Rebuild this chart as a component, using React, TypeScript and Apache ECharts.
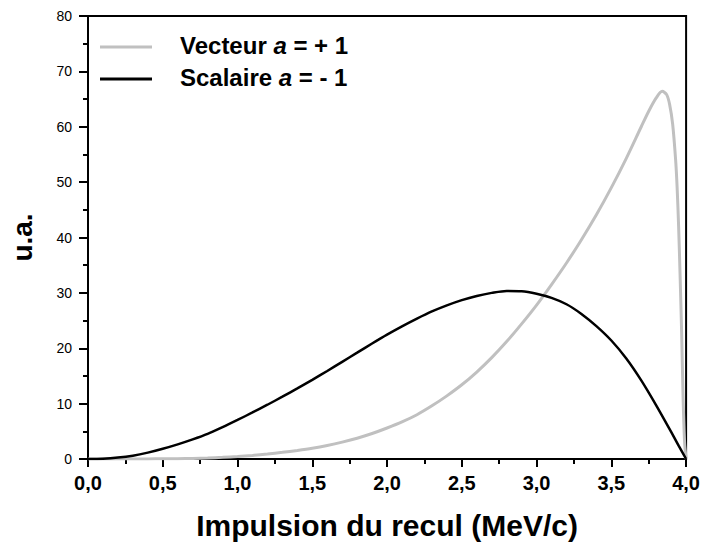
import React, { useEffect, useRef } from "react";
import * as echarts from "echarts";

const xName = "Impulsion du recul (MeV/c)";
const yName = "u.a.";

const scalaireX = [0, 0.1, 0.2, 0.3, 0.4, 0.5, 0.6, 0.7, 0.8, 0.9, 1.0, 1.1, 1.2, 1.3, 1.4, 1.5, 1.6, 1.7, 1.8, 1.9, 2.0, 2.1, 2.2, 2.3, 2.4, 2.5, 2.6, 2.7, 2.8, 2.9, 3.0, 3.1, 3.2, 3.3, 3.4, 3.5, 3.6, 3.7, 3.8, 3.9, 3.95, 4.0];
const scalaireY = [0, 0.05, 0.25, 0.6, 1.15, 1.85, 2.65, 3.55, 4.55, 5.75, 7.05, 8.4, 9.8, 11.25, 12.75, 14.3, 15.9, 17.55, 19.2, 20.85, 22.45, 23.95, 25.35, 26.65, 27.75, 28.7, 29.45, 30.0, 30.35, 30.3, 29.85, 29.1, 27.95, 26.2, 24.0, 21.4, 18.15, 14.2, 9.7, 4.9, 2.4, 0];

const vecteurX = [0, 0.1, 0.2, 0.3, 0.4, 0.5, 0.6, 0.7, 0.8, 0.9, 1.0, 1.1, 1.2, 1.3, 1.4, 1.5, 1.6, 1.7, 1.8, 1.9, 2.0, 2.1, 2.2, 2.3, 2.4, 2.5, 2.6, 2.7, 2.8, 2.9, 3.0, 3.1, 3.2, 3.3, 3.4, 3.5, 3.6, 3.7, 3.75, 3.8, 3.84, 3.87, 3.89, 3.91, 3.93, 3.94, 3.95, 3.96, 3.97, 3.98, 3.99, 4.0];
const vecteurY = [0, 0, 0, 0.01, 0.02, 0.03, 0.05, 0.1, 0.18, 0.3, 0.45, 0.65, 0.9, 1.2, 1.55, 1.95, 2.45, 3.05, 3.75, 4.6, 5.6, 6.7, 8.0, 9.6, 11.4, 13.4, 15.7, 18.3, 21.2, 24.4, 27.8, 31.5, 35.4, 39.6, 44.1, 49.0, 54.3, 60.0, 62.8, 65.2, 66.4, 65.8, 64.0, 60.5, 54, 49, 42, 33, 23, 11, 3, 0];

const legendNames = ["Vecteur", "Scalaire"];
const legendValues = ["+ 1", "- 1"];
const colors = ["#c0c0c0", "#000000"];

const FONT = "'Liberation Sans', Arial, sans-serif";

export default function App() {
  const ref = useRef<HTMLDivElement>(null);
  useEffect(() => {
    if (!ref.current) return;
    const chart = echarts.init(ref.current, null, { renderer: "svg" });
    const pairs = (xs: number[], ys: number[]) => xs.map((x, i) => [x, ys[i]]);
    chart.setOption({
      animation: false,
      backgroundColor: "#ffffff",
      grid: {
        left: 85,
        right: 16,
        top: 16,
        bottom: 86,
        show: true,
        borderColor: "#000",
        borderWidth: 2,
        backgroundColor: "transparent",
      },
      xAxis: {
        type: "value",
        min: 0,
        max: 4,
        interval: 0.5,
        name: xName,
        nameLocation: "middle",
        nameGap: 51,
        nameTextStyle: { fontFamily: FONT, fontWeight: "bold", fontSize: 30, color: "#000" },
        axisLine: { show: true, lineStyle: { color: "#000", width: 2 } },
        axisTick: { show: true, inside: false, length: 8, lineStyle: { color: "#000", width: 2 } },
        minorTick: { show: true, splitNumber: 2, length: 5, lineStyle: { color: "#000", width: 2 } },
        splitLine: { show: false },
        axisLabel: {
          fontFamily: FONT,
          fontWeight: "bold",
          fontSize: 20,
          color: "#000",
          margin: 14,
          formatter: (v: number) => v.toFixed(1).replace(".", ","),
        },
      },
      yAxis: {
        type: "value",
        min: 0,
        max: 80,
        interval: 10,
        name: yName,
        nameLocation: "middle",
        nameGap: 52,
        nameRotate: 90,
        nameTextStyle: { fontFamily: FONT, fontWeight: "bold", fontSize: 28, color: "#000" },
        axisLine: { show: true, lineStyle: { color: "#000", width: 2 } },
        axisTick: { show: true, inside: false, length: 9, lineStyle: { color: "#000", width: 2 } },
        minorTick: { show: true, splitNumber: 2, length: 5, lineStyle: { color: "#000", width: 2 } },
        splitLine: { show: false },
        axisLabel: {
          fontFamily: FONT,
          fontSize: 14,
          color: "#000",
          margin: 16,
        },
      },
      series: [
        {
          name: legendNames[0],
          type: "line",
          data: pairs(vecteurX, vecteurY),
          showSymbol: false,
          smooth: 0.3,
          lineStyle: { color: colors[0], width: 3 },
          z: 2,
        },
        {
          name: legendNames[1],
          type: "line",
          data: pairs(scalaireX, scalaireY),
          showSymbol: false,
          smooth: 0.3,
          lineStyle: { color: colors[1], width: 2.5 },
          z: 3,
        },
      ],
      graphic: legendNames.flatMap((n, i) => [
        {
          type: "line",
          shape: { x1: 100, y1: 47 + i * 32, x2: 152, y2: 47 + i * 32 },
          style: { stroke: colors[i], lineWidth: 3 },
        },
        {
          type: "text",
          x: 180,
          y: 45 + i * 32,
          style: {
            text: `{b|${n} }{i|a}{b| = ${legendValues[i]}}`,
            verticalAlign: "middle",
            rich: {
              b: { fontFamily: FONT, fontWeight: "bold", fontSize: 24, fill: "#000" },
              i: { fontFamily: FONT, fontWeight: "bold", fontStyle: "italic", fontSize: 24, fill: "#000" },
            },
          },
        },
      ]),
    });
    return () => chart.dispose();
  }, []);
  return (
    <div
      ref={ref}
      style={{ position: "absolute", left: 0, top: 0, width: 703, height: 545 }}
    />
  );
}
